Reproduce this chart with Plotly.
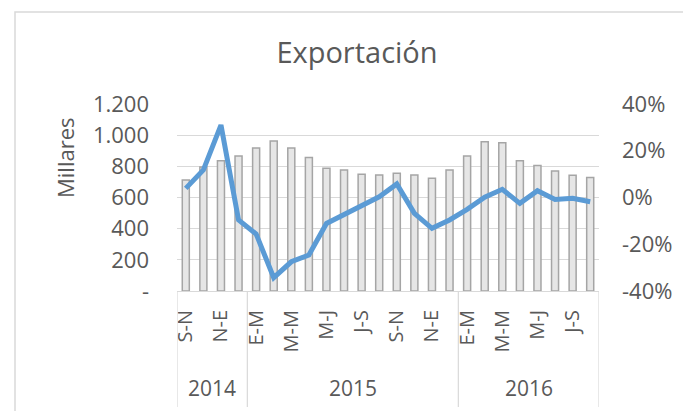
import plotly.graph_objects as go

years = ["2014", "2015", "2016"]
periods_2014 = ["S-N", "O-D", "N-E", "D-F"]
periods_2015 = ["E-M", "F-A", "M-M", "A-J", "M-J", "J-A", "J-S", "A-O", "S-N", "O-D", "N-E", "D-F"]
periods_2016 = ["E-M", "F-A", "M-M", "A-J", "M-J", "J-A", "J-S", "A-O"]
periods = periods_2014 + periods_2015 + periods_2016
group_sizes = [len(periods_2014), len(periods_2015), len(periods_2016)]

exports_thousands = [712, 795, 836, 866, 918, 963, 918, 856, 787, 776, 749, 744,
                     755, 744, 723, 776, 866, 958, 952, 836, 806, 770, 742, 729]
growth_pct = [3.9, 11.8, 31.0, -9.6, -15.6, -34.3, -27.5, -24.6, -11.1, -7.1, -3.6, 0.3,
              5.8, -6.8, -13.2, -9.6, -5.1, 0.1, 3.5, -2.5, 2.9, -0.8, -0.3, -1.8]

left_tickvals = [0, 200, 400, 600, 800, 1000, 1200]
left_ticktext = ["-", "200", "400", "600", "800", "1.000", "1.200"]
right_tickvals = [-0.4, -0.2, 0, 0.2, 0.4]
right_ticktext = ["-40%", "-20%", "0%", "20%", "40%"]

FONT = "Open Sans"
TXT = "#595959"
GRID = "#D9D9D9"

# page body has an 8px offset; layout positions are compensated for it
OFF = 8
PL, PR, PT, PB = 177 - OFF, 599 - OFF, 104 - OFF, 291 - OFF
PW, PH = PR - PL, PB - PT

x = list(range(len(periods)))
shown_ticks = x[::2]
shown_text = [periods[i] for i in shown_ticks]

fig = go.Figure()
fig.add_trace(go.Bar(
    x=x, y=exports_thousands, width=0.4,
    marker=dict(color="#E6E6E6", line=dict(color="#A5A5A5", width=1.5)),
    showlegend=False, hoverinfo="skip"))
fig.add_trace(go.Scatter(
    x=x, y=[v / 100 for v in growth_pct], yaxis="y2", mode="lines",
    line=dict(color="#5B9BD5", width=5), showlegend=False))

# group dividers and year labels
bounds = [-0.5]
for s in group_sizes:
    bounds.append(bounds[-1] + s)
for b in bounds:
    fig.add_shape(type="line", xref="x", yref="paper", x0=b, x1=b, y0=0, y1=-0.62,
                  line=dict(color=GRID, width=1.2))
for i, yr in enumerate(years):
    fig.add_annotation(x=(bounds[i] + bounds[i + 1]) / 2, y=-(388 - 291) / PH, xref="x", yref="paper",
                       text=yr, showarrow=False, yanchor="middle",
                       font=dict(family=FONT, size=21, color=TXT))

# y-axis title placed like the reference (upper part of the axis)
fig.add_annotation(x=(65 - OFF - PL) / PW, y=(PB - (157 - OFF)) / PH, xref="paper", yref="paper",
                   text="Millares", textangle=-90, showarrow=False,
                   xanchor="center", yanchor="middle",
                   font=dict(family=FONT, size=22, color=TXT))

# chart-area border
fig.add_shape(type="rect", xref="paper", yref="paper",
              x0=(15 - 177) / PW, x1=(688 - 177) / PW, y0=-1.2, y1=(291 - 12) / PH,
              line=dict(color=GRID, width=1.5), layer="below")

fig.update_layout(
    width=691, height=411,
    margin=dict(l=PL, r=691 - PR, t=PT, b=411 - PB),
    paper_bgcolor="white", plot_bgcolor="white",
    font=dict(family=FONT, color=TXT),
    title=dict(text="Exportación", x=(357 - OFF) / 691, xanchor="center",
               y=1 - (53 - OFF) / 411, yanchor="middle",
               font=dict(family=FONT, size=29, color=TXT)),
    xaxis=dict(range=[-0.5, len(periods) - 0.5], tickvals=shown_ticks, ticktext=shown_text,
               tickangle=-90, tickfont=dict(family=FONT, size=20, color=TXT),
               showgrid=False, showline=True, linecolor=GRID, linewidth=1, ticks="",
               ticklabelstandoff=10, zeroline=False),
    yaxis=dict(range=[0, 1200], tickvals=left_tickvals, ticktext=left_ticktext,
               tickfont=dict(family=FONT, size=22, color=TXT),
               gridcolor=GRID, gridwidth=1, showline=False, zeroline=False,
               ticklabelstandoff=27),
    yaxis2=dict(range=[-0.4, 0.4], tickvals=right_tickvals, ticktext=right_ticktext,
                overlaying="y", side="right", showgrid=False, zeroline=False,
                tickfont=dict(family=FONT, size=22, color=TXT), ticklabelstandoff=22),
    bargap=0.6,
)

fig.write_html("out.html")
